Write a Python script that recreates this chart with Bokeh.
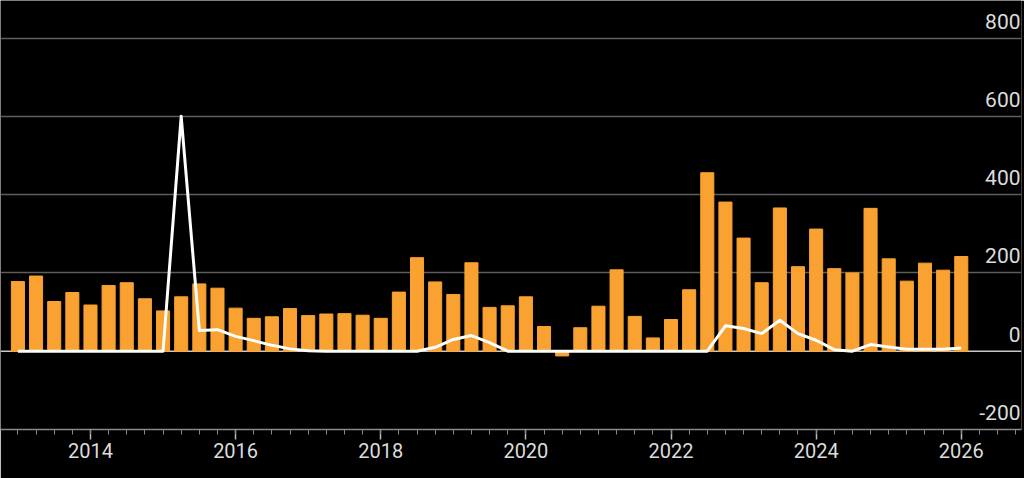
from bokeh.plotting import figure
from bokeh.models import FixedTicker, Range1d, ColumnDataSource, Span
from bokeh.core.properties import value
from bokeh.embed import file_html
from bokeh.resources import INLINE

# Quarterly series, first quarter of 2013 through first quarter of 2026
start_year = 2013
bar_values = [178, 192, 127, 150, 118, 168, 175, 134, 103, 139,
              172, 161, 110, 84, 88, 109, 91, 95, 96, 92,
              84, 151, 239, 177, 145, 226, 112, 116, 139, 63,
              -12, 60, 115, 208, 89, 34, 81, 157, 456, 381,
              289, 175, 366, 216, 312, 211, 200, 365, 236, 179,
              225, 207, 242]
line_values = [0, 0, 0, 0, 0, 0, 0, 0, 0, 600,
               53, 55, 38, 27, 15, 6, 1, 0, 0, 0,
               0, 0, 0, 10, 30, 40, 22, 0, 0, 0,
               0, 0, 0, 0, 0, 0, 0, 0, 0, 65,
               58, 45, 79, 45, 28, 4, 0, 17, 11, 5,
               5, 5, 8]
year_ticks = [2014, 2016, 2018, 2020, 2022, 2024, 2026]
y_ticks = [-200, 0, 200, 400, 600, 800]
y_tick_labels = ["-200", "0", "200", "400", "600", "800"]

quarters = [start_year + i / 4 for i in range(len(bar_values))]

BG = "#000000"
ORANGE = "#F9A231"
TEXT = "#dcdcdc"
GRID = "#5e5e5e"
FONT = "Roboto"

x0, x1 = 2012.76, 2026.83
p = figure(width=1024, height=478, output_backend="svg", toolbar_location=None,
           x_range=Range1d(x0, x1), y_range=Range1d(-200, 896),
           min_border_left=0, min_border_right=3, min_border_top=0,
           min_border_bottom=49)
p.background_fill_color = BG
p.border_fill_color = BG
p.outline_line_color = None

src = ColumnDataSource(dict(x=quarters, bars=bar_values, line=line_values))
p.vbar(x="x", top="bars", bottom=0, width=0.18, color=ORANGE, source=src)

# horizontal grid, zero line a little brighter
p.xgrid.visible = False
p.ygrid.ticker = FixedTicker(ticks=[t for t in y_ticks if t not in (-200, 0)])
p.ygrid.grid_line_color = GRID
p.ygrid.grid_line_width = 1.5
p.add_layout(Span(location=0, dimension="width", line_color="#c8c8c8",
                  line_width=1.5, level="underlay"))

p.line(x="x", y="line", source=src, line_color="#ffffff", line_width=3,
       line_join="round")

# y labels sit above their grid lines at the right edge
p.text(x=[x1] * len(y_ticks), y=y_ticks, text=y_tick_labels,
       text_align="right", text_baseline="alphabetic", y_offset=-17, x_offset=-1,
       text_font=value(FONT), text_font_size="21px", text_color=TEXT)

p.yaxis.visible = False
xa = p.xaxis[0]
minor = [start_year + i / 4 for i in range(0, 56)]
xa.ticker = FixedTicker(ticks=year_ticks, minor_ticks=minor)
xa.axis_line_color = "#8a8a8a"
xa.axis_line_width = 1.5
xa.major_tick_line_color = "#bdbdbd"
xa.major_tick_line_width = 1.5
xa.minor_tick_line_color = "#8a8a8a"
xa.major_tick_out = 10
xa.major_tick_in = 0
xa.minor_tick_out = 5
xa.minor_tick_in = 0
xa.major_label_standoff = 3
xa.major_label_text_font = FONT
xa.major_label_text_font_size = "20px"
xa.major_label_text_color = TEXT

open("out.html", "w").write(file_html(p, INLINE))
